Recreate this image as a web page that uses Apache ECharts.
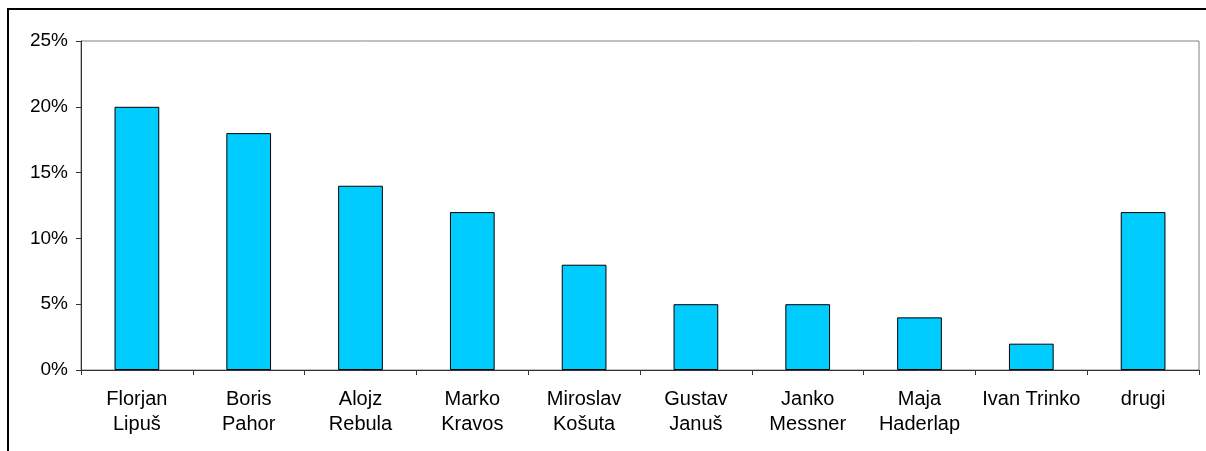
<!DOCTYPE html>
<html>
<head>
<meta charset="utf-8">
<style>
    html, body { margin: 0; padding: 0; background: #fff; }
    #dom { width: 1206px; height: 451px; }
</style>
<script src="https://cdn.jsdelivr.net/npm/echarts@6/dist/echarts.min.js"></script>
</head>
<body>
<div id="dom"></div>
<script>
// authors and their share
let categories = ['Florjan\nLipuš', 'Boris\nPahor', 'Alojz\nRebula', 'Marko\nKravos', 'Miroslav\nKošuta',
    'Gustav\nJanuš', 'Janko\nMessner', 'Maja\nHaderlap', 'Ivan Trinko', 'drugi']
let shares = [20, 18, 14, 12, 8, 5, 5, 4, 2, 12]
let yTicks = [0, 5, 10, 15, 20, 25]

let dom = echarts.init(document.getElementById('dom'))
let option = {
    animation: false,
    textStyle: { fontFamily: 'Liberation Sans, Arial, sans-serif' },
    graphic: [{
        type: 'rect',
        shape: { x: 8, y: 9, width: 1260, height: 520 },
        style: { fill: 'none', stroke: '#000', lineWidth: 2 }
    }],
    grid: {
        left: 81,
        right: 7,
        top: 41,
        bottom: 81,
        show: true,
        borderColor: '#808080',
        borderWidth: 1
    },
    xAxis: {
        type: 'category',
        data: categories,
        axisLine: { lineStyle: { color: '#333', width: 1 } },
        axisTick: { show: true, length: 5, lineStyle: { color: '#333' } },
        axisLabel: {
            color: '#000',
            fontSize: 20,
            lineHeight: 25,
            margin: 17,
            interval: 0
        },
        splitLine: { show: false }
    },
    yAxis: {
        type: 'value',
        min: yTicks[0],
        max: yTicks[yTicks.length - 1],
        interval: 5,
        axisLine: { show: true, lineStyle: { color: '#333', width: 1 } },
        axisTick: { show: true, length: 5, lineStyle: { color: '#333' } },
        axisLabel: {
            color: '#000',
            fontSize: 19,
            margin: 13,
            formatter: v => v + '%'
        },
        splitLine: { show: false }
    },
    series: [{
        type: 'bar',
        data: shares,
        barWidth: '40%',
        itemStyle: {
            color: '#00CCFF',
            borderColor: '#000',
            borderWidth: 1
        }
    }]
}
dom.setOption(option)
</script>
</body>
</html>
